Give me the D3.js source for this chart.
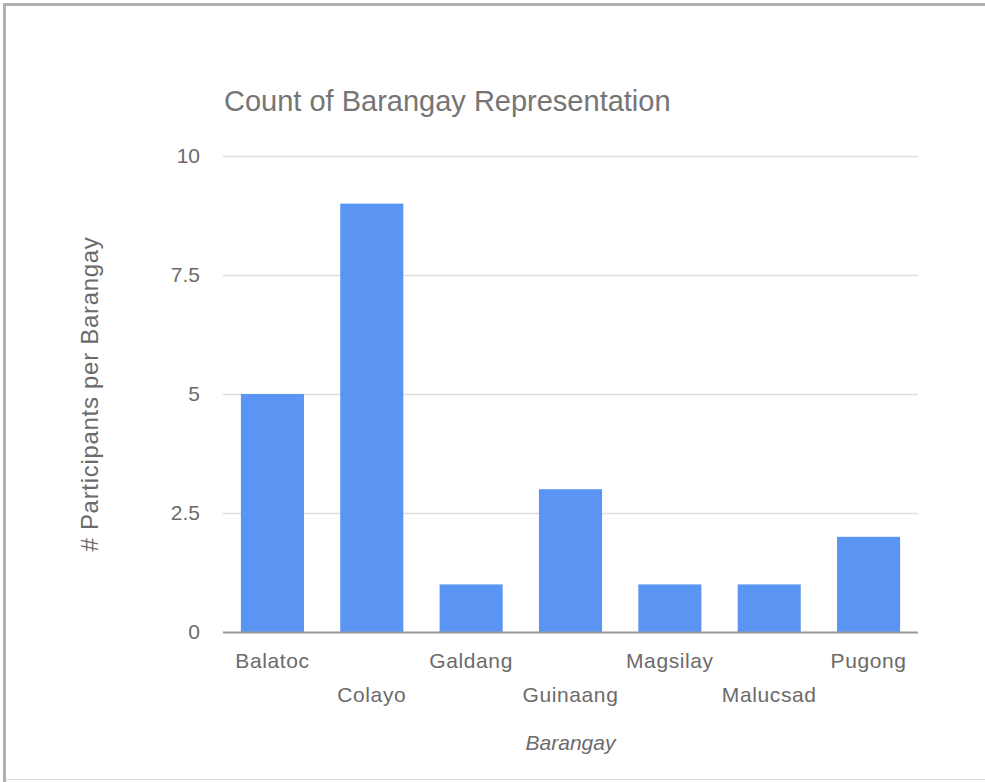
<!DOCTYPE html>
<html>
<head>
<meta charset="utf-8">
<script src="https://cdn.jsdelivr.net/npm/d3@7"></script>
<style>
  body { margin: 0; background: #fff; }
  svg { display: block; }
  text { font-family: "Liberation Sans", Arial, sans-serif; }
</style>
</head>
<body>
<div id="chart-area"></div>
<script>
// chart data
var barangays = ["Balatoc", "Colayo", "Galdang", "Guinaang", "Magsilay", "Malucsad", "Pugong"];
var counts = [5, 9, 1, 3, 1, 1, 2];
var yTicks = [0, 2.5, 5, 7.5, 10];

var W = 985, H = 782;
var margin = {left: 223, right: 67, top: 156, bottom: 150};
var width = W - margin.left - margin.right,
    height = H - margin.top - margin.bottom;

var svg = d3.select("#chart-area")
  .append("svg")
  .attr("width", W)
  .attr("height", H);

// frame around the picture
svg.append("line")
  .attr("x1", 3).attr("x2", W).attr("y1", 4.5).attr("y2", 4.5)
  .attr("stroke", "#b0b0b0").attr("stroke-width", 3);
svg.append("line")
  .attr("x1", 4.5).attr("x2", 4.5).attr("y1", 3).attr("y2", H)
  .attr("stroke", "#b0b0b0").attr("stroke-width", 3);
svg.append("line")
  .attr("x1", 6).attr("x2", W).attr("y1", 779.5).attr("y2", 779.5)
  .attr("stroke", "#dcdcdc").attr("stroke-width", 1);

var g = svg.append("g")
  .attr("transform", "translate(" + margin.left + "," + margin.top + ")");

// title
svg.append("text")
  .attr("x", 224)
  .attr("y", 111)
  .attr("font-size", "29px")
  .attr("fill", "#757575")
  .text("Count of Barangay Representation");

// scales
var x = d3.scaleBand()
  .domain(barangays)
  .range([0, width])
  .paddingInner(0.365)
  .paddingOuter(0.18);

var y = d3.scaleLinear()
  .domain([0, 10])
  .range([height, 0]);

// gridlines
g.selectAll(".grid")
  .data(yTicks.filter(function (d) { return d > 0; }))
  .enter()
  .append("line")
  .attr("class", "grid")
  .attr("x1", 0).attr("x2", width)
  .attr("y1", function (d) { return y(d) + 0.5; })
  .attr("y2", function (d) { return y(d) + 0.5; })
  .attr("stroke", "#dedede")
  .attr("stroke-width", 1.5);

// y axis labels
var yAxis = g.append("g")
  .attr("class", "y axis")
  .call(d3.axisLeft(y).tickValues(yTicks).tickSize(0).tickPadding(23)
    .tickFormat(function (d) { return d; }));
yAxis.select(".domain").remove();
yAxis.selectAll("text")
  .attr("font-size", "21px")
  .attr("font-family", "Liberation Sans, Arial, sans-serif")
  .attr("fill", "#6b6b6b");

// bars
g.selectAll(".bar")
  .data(counts)
  .enter()
  .append("rect")
  .attr("class", "bar")
  .attr("x", function (d, i) { return x(barangays[i]); })
  .attr("width", x.bandwidth())
  .attr("y", function (d) { return y(d); })
  .attr("height", function (d) { return height - y(d); })
  .attr("fill", "#5b95f4");

// baseline
g.append("line")
  .attr("x1", 0).attr("x2", width)
  .attr("y1", height + 0.5).attr("y2", height + 0.5)
  .attr("stroke", "#999")
  .attr("stroke-width", 2);

// x labels, staggered in two rows
g.selectAll(".xlab")
  .data(barangays)
  .enter()
  .append("text")
  .attr("class", "xlab")
  .attr("x", function (d) { return x(d) + x.bandwidth() / 2; })
  .attr("y", function (d, i) { return height + (i % 2 == 0 ? 36 : 70); })
  .attr("text-anchor", "middle")
  .attr("font-size", "21px")
  .attr("letter-spacing", "0.6px")
  .attr("fill", "#6b6b6b")
  .text(function (d) { return d; });

// x axis title
g.append("text")
  .attr("x", width / 2)
  .attr("y", height + 118)
  .attr("text-anchor", "middle")
  .attr("font-size", "21px")
  .attr("font-style", "italic")
  .attr("fill", "#6b6b6b")
  .text("Barangay");

// y axis title
g.append("text")
  .attr("transform", "rotate(-90)")
  .attr("x", -y(5))
  .attr("y", -(margin.left - 98))
  .attr("text-anchor", "middle")
  .attr("font-size", "24px")
  .attr("letter-spacing", "0.7px")
  .attr("fill", "#6b6b6b")
  .text("# Participants per Barangay");
</script>
</body>
</html>
